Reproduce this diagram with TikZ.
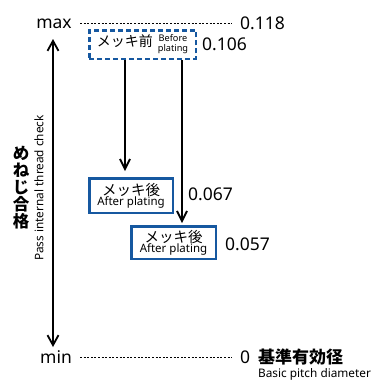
\documentclass[tikz,border=0pt]{standalone}
\usepackage{fontspec}
\setmainfont{Noto Sans}
\newfontfamily\cjk{Noto Sans CJK JP}
\usetikzlibrary{arrows.meta}
\definecolor{blu}{RGB}{22,88,160}
\begin{document}
\begin{tikzpicture}[x=1pt,y=-1pt,
  lab/.style={inner sep=0pt, font=\fontsize{17.5}{20}\selectfont},
  dotline/.style={line width=1pt, dash pattern=on 2pt off 1.6pt},
  varrow/.style={line width=1.8pt, -{Straight Barb[length=10pt,width=10pt]}},
  pbox/.style={draw=blu, line width=2.5pt, inner sep=0pt, align=center},
]
\useasboundingbox (0,0) rectangle (375,381);

% scale labels
\node[lab, anchor=base] (max) at (54,28) {max};
\node[lab, anchor=base west] (v118) at (240,29) {0.118};
\coordinate (maxL) at (80,23);
\coordinate (maxR) at (232,23);
\draw[dotline] (maxL) -- (maxR);

\node[lab, anchor=base] (min) at (56,363) {min};
\node[lab, anchor=base west] (v0) at (240,363) {0};
\coordinate (minL) at (80,357);
\coordinate (minR) at (232,357);
\draw[dotline] (minL) -- (minR);
\node[anchor=base west, inner sep=0pt, font=\cjk\fontsize{17}{20}\selectfont\bfseries] (basic) at (258,363) {基準有効径};
\node[anchor=base west, inner sep=0pt, font=\fontsize{11.8}{12}\selectfont] (basicE) at (258,377) {Basic pitch diameter};

% main double arrow
\coordinate (top) at (53,39);
\coordinate (bot) at (53,347);
\draw[line width=1.8pt, {Straight Barb[length=10pt,width=11pt]}-{Straight Barb[length=10pt,width=11pt]}] (top) -- (bot);

% side labels
\node[font=\cjk\fontsize{16.5}{17}\selectfont\bfseries, align=center, inner sep=0pt] (jp) at (21,188) {め\\ね\\じ\\合\\格};
\node[rotate=90, font=\fontsize{11.8}{12}\selectfont, inner sep=0pt] (pass) at (39,188) {Pass internal thread check};

% boxes
\node[pbox, dash pattern=on 5pt off 3pt, minimum width=106.5pt, minimum height=28.5pt] (pre) at (142.5,44.5)
  {{\cjk\fontsize{14}{16}\selectfont メッキ前}\hspace{5pt}{\fontsize{9.2}{10.5}\selectfont\begin{tabular}{@{}c@{}}Before\\plating\end{tabular}}};
\node[lab, anchor=west] (v106) at (202,44) {0.106};

\node[pbox, minimum width=83.5pt, minimum height=34.5pt] (post1) at (131,195.5)
  {{\cjk\fontsize{14.5}{15}\selectfont メッキ後}\\[-2pt]{\fontsize{11.5}{12}\selectfont After plating}};
\node[lab, anchor=west] (v067) at (188,194.5) {0.067};

\node[pbox, minimum width=84.5pt, minimum height=32.5pt] (post2) at (173.5,242.5)
  {{\cjk\fontsize{14.5}{15}\selectfont メッキ後}\\[-2pt]{\fontsize{11.5}{12}\selectfont After plating}};
\node[lab, anchor=west] (v057) at (225,244) {0.057};

% arrows
\draw[varrow, shorten >=6pt] ([xshift=-17.5pt]pre.south) -- ([xshift=-17.5pt]pre.south |- post1.north);
\draw[varrow, shorten >=2pt] ([xshift=39.5pt]pre.south) -- ([xshift=39.5pt]pre.south |- post2.north);
\end{tikzpicture}
\end{document}
